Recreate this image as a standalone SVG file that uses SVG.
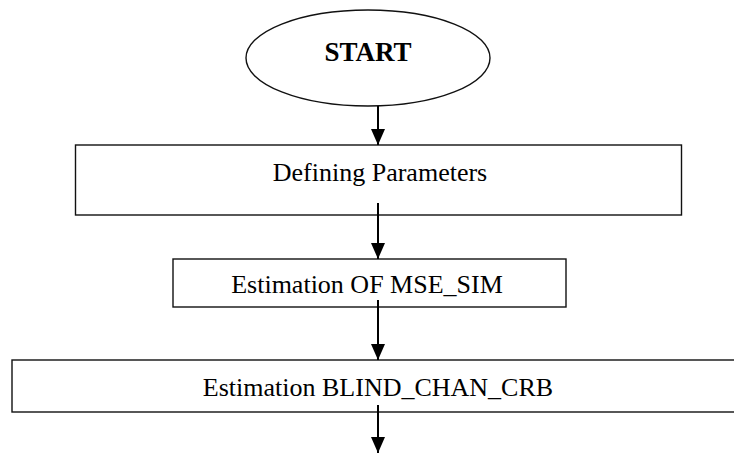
<svg xmlns="http://www.w3.org/2000/svg" width="734" height="453" viewBox="0 0 734 453">
<defs>
<style>
.shape{fill:#fff;stroke:#111;stroke-width:1.4}
.lbl{font-family:"Liberation Serif","Times New Roman",serif;font-size:26px;fill:#000;text-anchor:middle}
.bold{font-weight:bold;font-size:27px}
.conn{stroke:#000;stroke-width:2;fill:none}
</style>
<marker id="ah" markerUnits="userSpaceOnUse" markerWidth="18" markerHeight="14" refX="16" refY="7" orient="auto" viewBox="0 0 16 14">
<path d="M0,0 L16,7 L0,14 Z" fill="#000"/>
</marker>
</defs>
<rect width="734" height="453" fill="#fff"/>
<g id="start">
<ellipse class="shape" cx="368" cy="58" rx="122" ry="48"/>
<text class="lbl bold" x="368" y="61">START</text>
</g>
<g id="defining">
<rect class="shape" x="75.5" y="145" width="606" height="70"/>
<text class="lbl" x="380" y="181">Defining Parameters</text>
</g>
<g id="mse">
<rect class="shape" x="173" y="259" width="393" height="48"/>
<text class="lbl" x="367" y="293">Estimation OF MSE_SIM</text>
</g>
<g id="crb">
<rect class="shape" x="12" y="360" width="730" height="52"/>
<text class="lbl" x="378" y="396">Estimation BLIND_CHAN_CRB</text>
</g>
<g id="connectors">
<line class="conn" x1="378" y1="106" x2="378" y2="145" marker-end="url(#ah)"/>
<line class="conn" x1="378" y1="203" x2="378" y2="259" marker-end="url(#ah)"/>
<line class="conn" x1="378" y1="300" x2="378" y2="360" marker-end="url(#ah)"/>
<line class="conn" x1="378" y1="405" x2="378" y2="453" marker-end="url(#ah)"/>
</g>
</svg>
